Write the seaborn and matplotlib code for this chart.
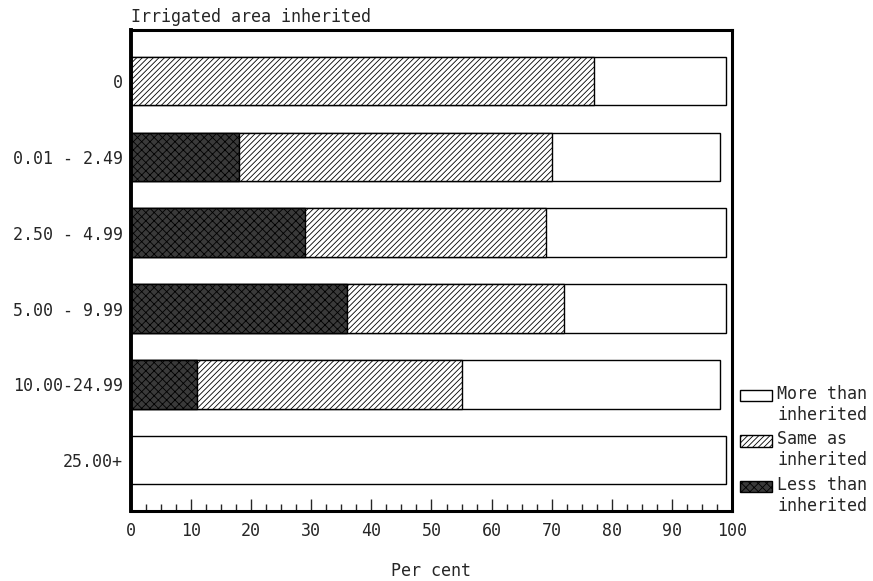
import pandas as pd
import seaborn as sns
from matplotlib import pyplot as plt
from matplotlib.legend_handler import HandlerPatch
from matplotlib.patches import Patch, Rectangle
from matplotlib.ticker import MultipleLocator

# irrigated area inherited (ha) groups, top to bottom
groups = ["0", "0.01 - 2.49", "2.50 - 4.99", "5.00 - 9.99", "10.00-24.99", "25.00+"]
less_than = [0, 18, 29, 36, 11, 0]
same_as = [77, 52, 40, 36, 44, 0]
more_than = [22, 28, 30, 27, 43, 99]

df = pd.DataFrame({"Group": groups, "Less": less_than, "Same": same_as, "More": more_than})
df["cum_less"] = df["Less"]
df["cum_same"] = df["Less"] + df["Same"]
df["cum_more"] = df["cum_same"] + df["More"]

sns.set_style("white")
plt.rcParams["font.family"] = ["DejaVu Sans Mono"]
plt.rcParams["hatch.linewidth"] = 0.6

fig = plt.figure(figsize=(8.73, 5.81), dpi=100)
ax = fig.add_axes([0.150, 0.1205, 0.6885, 0.8275])

# stacked bars drawn as overlapping cumulative bars
styles = [
    ("cum_more", "white", ""),
    ("cum_same", "white", "//////"),
    ("cum_less", "#3a3a3a", "xxxx"),
]
for col, face, hatch in styles:
    sns.barplot(data=df, x=col, y="Group", order=groups, orient="h", width=0.64,
                color=face, saturation=1, edgecolor="black", linewidth=1,
                errorbar=None, ax=ax)
    for patch in ax.containers[-1]:
        patch.set_hatch(hatch)

ax.set_xlim(0, 100)
ax.set_ylim(5.67, -0.67)
ax.xaxis.set_major_locator(MultipleLocator(10))
ax.xaxis.set_minor_locator(MultipleLocator(2.5))
ax.tick_params(axis="x", which="major", direction="in", length=9, width=1, pad=8,
               labelsize=12, bottom=True)
ax.tick_params(axis="x", which="minor", direction="in", length=5, width=1, bottom=True)
ax.tick_params(axis="y", length=0, pad=6, labelsize=12)

for side in ["left", "right", "top", "bottom"]:
    ax.spines[side].set_visible(True)
    ax.spines[side].set_color("black")
    ax.spines[side].set_linewidth(2.2)
ax.spines["left"].set_linewidth(2.8)

ax.set_ylabel("")
ax.set_xlabel("Per cent", fontsize=12, labelpad=16)
ax.set_title("Irrigated area inherited", loc="left", fontsize=12, pad=6)


def first_line_patch(legend, orig_handle, xdescent, ydescent, width, height, fontsize):
    # lift the swatch up to the first line of the two-line label
    return Rectangle((-xdescent, -ydescent + 0.6 * fontsize), width, height)


handles = [
    Patch(facecolor="white", edgecolor="black", label="More than\ninherited"),
    Patch(facecolor="white", edgecolor="black", hatch="//////", label="Same as\ninherited"),
    Patch(facecolor="#3a3a3a", edgecolor="black", hatch="xxxx", label="Less than\ninherited"),
]
ax.legend(handles=handles, loc="lower left", bbox_to_anchor=(1.0, -0.025),
          frameon=False, fontsize=12, handlelength=1.9, handleheight=0.65,
          handletextpad=0.3, labelspacing=0.4, borderpad=0.2, borderaxespad=0.3,
          handler_map={Patch: HandlerPatch(patch_func=first_line_patch)})

fig.savefig("out.png", dpi=100)
